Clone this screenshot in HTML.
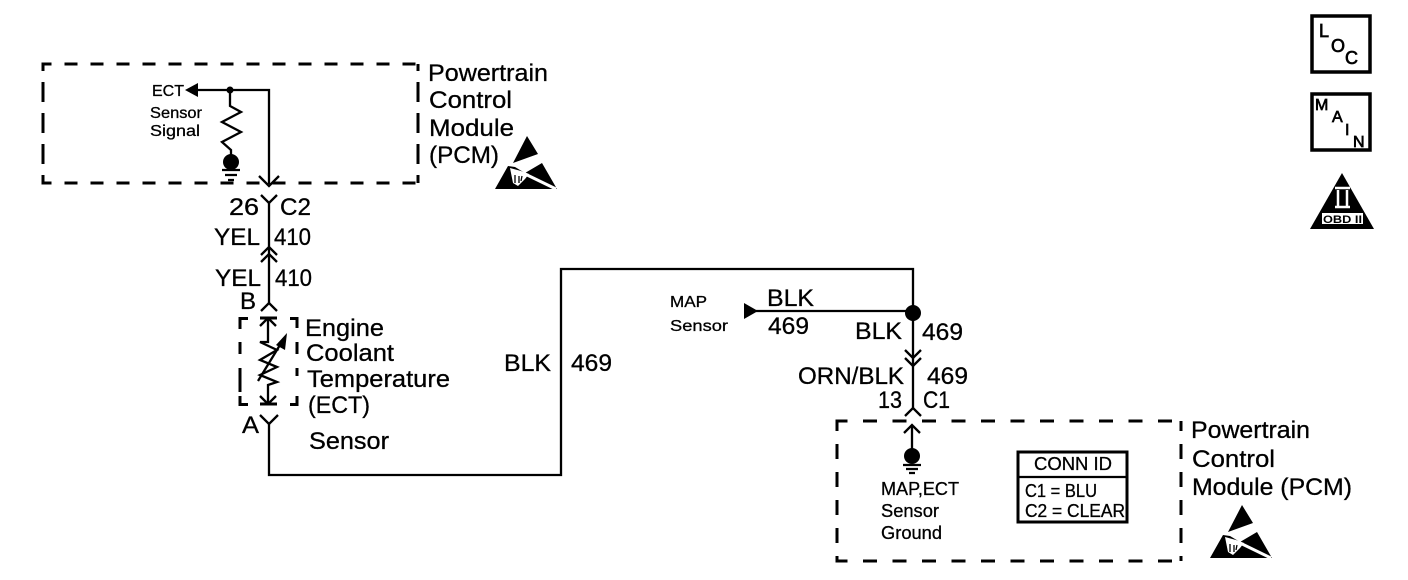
<!DOCTYPE html>
<html><head><meta charset="utf-8"><style>
html,body{margin:0;padding:0;background:#fff;width:1408px;height:580px;overflow:hidden}
svg{display:block}
text{font-family:"Liberation Sans",sans-serif;fill:#000;stroke:#000;stroke-width:.3}
.b{font-size:24px}
.s{font-size:16px}
.m{font-size:18px}
.k{font-size:18px;stroke-width:.7}
.l{fill:none;stroke:#000;stroke-width:2.3}
.d{fill:none;stroke:#000;stroke-width:3}
.f{fill:#000;stroke:none}
.h1{stroke-dasharray:13 13;stroke-dashoffset:3}
.v1{stroke-dasharray:20 11;stroke-dashoffset:13}
.h2{stroke-dasharray:14 15.5;stroke-dashoffset:2}
.v2{stroke-dasharray:15 13;stroke-dashoffset:5}
</style></head><body>
<svg width="1408" height="580" viewBox="0 0 1408 580" xmlns="http://www.w3.org/2000/svg">
<defs>
<g id="esd">
<path class="f" d="M42 5L53 23L28 32Z"/>
<path class="f" d="M23 35L10 58H72L57 32L40 42L30 36Z"/>
<path d="M25 37L28 52L33 55L40 48L44 43L36 40Z" fill="#fff"/>
<path d="M38 42L71 58" stroke="#fff" stroke-width="3"/>
<path d="M30 44V52M34 45V52M37 45L36 50" stroke="#000" stroke-width="1.3"/>
</g>
</defs>
<!-- PCM box 1 -->
<path class="d h1" d="M41.5 64H419"/>
<path class="d h1" d="M41.5 183H419"/>
<path class="d v1" d="M43 64V183"/>
<path class="d v1" d="M418 64V183"/>
<text class="b" x="428" y="81" textLength="120" lengthAdjust="spacingAndGlyphs">Powertrain</text>
<text class="b" x="429" y="108" textLength="83" lengthAdjust="spacingAndGlyphs">Control</text>
<text class="b" x="429" y="136" textLength="85" lengthAdjust="spacingAndGlyphs">Module</text>
<text class="b" x="429" y="163" textLength="70" lengthAdjust="spacingAndGlyphs">(PCM)</text>
<text class="s" x="152" y="96" textLength="32" lengthAdjust="spacingAndGlyphs">ECT</text>
<text class="s" x="150" y="118" textLength="52" lengthAdjust="spacingAndGlyphs">Sensor</text>
<text class="s" x="150" y="136" textLength="50" lengthAdjust="spacingAndGlyphs">Signal</text>
<path class="f" d="M185 90L198 83V97Z"/>
<path class="l" d="M196 90H269V184M259 176L269 186L279 176"/>
<circle class="f" cx="230" cy="90" r="3.5"/>
<path class="l" d="M230 90V106L241 112L222 122L241 132L222 142L231 150V158"/>
<circle class="f" cx="231" cy="162" r="8"/>
<path class="l" d="M222 170H240M225 175H237M228 180H234"/>
<!-- wire 410 -->
<path class="l" d="M269 203V303"/>
<path class="l" d="M261 195L269 203L277 195M261 255L269 247L277 255M261 262L269 254L277 262M261 311L269 303L277 311"/>
<text class="b" x="229" y="215" textLength="30" lengthAdjust="spacingAndGlyphs">26</text>
<text class="b" x="280" y="215" textLength="31" lengthAdjust="spacingAndGlyphs">C2</text>
<text class="b" x="214" y="245" textLength="46" lengthAdjust="spacingAndGlyphs">YEL</text>
<text class="b" x="274" y="245" textLength="37" lengthAdjust="spacingAndGlyphs">410</text>
<text class="b" x="215" y="286" textLength="46" lengthAdjust="spacingAndGlyphs">YEL</text>
<text class="b" x="275" y="286" textLength="37" lengthAdjust="spacingAndGlyphs">410</text>
<text class="b" x="240" y="309" textLength="16" lengthAdjust="spacingAndGlyphs">B</text>
<!-- ECT sensor -->
<path class="d" d="M248 318.5H240V329M240 342V354M240 368V392M240 396V404.5H248M290 318.5H297V328M297 342V354M297 368V376M297 396V404.5H290"/>
<path class="d" d="M260 318H277M260 404H277"/>
<path class="l" d="M268 319V342L260 342L277 350L260 360L277 367L260 375L277 382L268 385V404"/>
<path class="l" d="M260 326L268 318L276 326M260 396L268 404L276 396M258 381L283 340"/>
<path class="f" d="M287 333L285 350L276 345Z"/>
<path class="l" d="M260 415L269 424L278 415"/>
<text class="b" x="242" y="433" textLength="17" lengthAdjust="spacingAndGlyphs">A</text>
<text class="b" x="305" y="336" textLength="79" lengthAdjust="spacingAndGlyphs">Engine</text>
<text class="b" x="306" y="361" textLength="88" lengthAdjust="spacingAndGlyphs">Coolant</text>
<text class="b" x="307" y="387" textLength="143" lengthAdjust="spacingAndGlyphs">Temperature</text>
<text class="b" x="308" y="413" textLength="62" lengthAdjust="spacingAndGlyphs">(ECT)</text>
<text class="b" x="309" y="449" textLength="80" lengthAdjust="spacingAndGlyphs">Sensor</text>
<!-- long wire -->
<path class="l" d="M269 424V475H561V269H913V408"/>
<path class="l" d="M912 425V452"/>
<text class="b" x="504" y="371" textLength="47" lengthAdjust="spacingAndGlyphs">BLK</text>
<text class="b" x="571" y="371" textLength="41" lengthAdjust="spacingAndGlyphs">469</text>
<!-- MAP -->
<text class="s" x="670" y="307" textLength="37" lengthAdjust="spacingAndGlyphs">MAP</text>
<text class="s" x="670" y="331" textLength="58" lengthAdjust="spacingAndGlyphs">Sensor</text>
<path class="f" d="M744 303L758 311L744 319Z"/>
<path class="l" d="M756 311H913"/>
<circle class="f" cx="913" cy="313" r="8"/>
<text class="b" x="767" y="306" textLength="47" lengthAdjust="spacingAndGlyphs">BLK</text>
<text class="b" x="768" y="334" textLength="41" lengthAdjust="spacingAndGlyphs">469</text>
<text class="b" x="855" y="339" textLength="47" lengthAdjust="spacingAndGlyphs">BLK</text>
<text class="b" x="922" y="340" textLength="41" lengthAdjust="spacingAndGlyphs">469</text>
<path class="l" d="M905 350L913 358L921 350M905 358L913 366L921 358M905 416L913 408L921 416M904 433L912 425L920 433"/>
<text class="b" x="798" y="384" textLength="106" lengthAdjust="spacingAndGlyphs">ORN/BLK</text>
<text class="b" x="927" y="384" textLength="41" lengthAdjust="spacingAndGlyphs">469</text>
<text class="b" x="878" y="408" textLength="24" lengthAdjust="spacingAndGlyphs">13</text>
<text class="b" x="923" y="408" textLength="27" lengthAdjust="spacingAndGlyphs">C1</text>
<!-- PCM box 2 -->
<path class="d h2" d="M835.5 421H1183"/>
<path class="d h2" d="M835.5 561H1183"/>
<path class="d v2" d="M837 421V561"/>
<path class="d v2" d="M1181 421V561"/>
<circle class="f" cx="912" cy="456" r="8"/>
<path class="l" d="M903 465H921M906 469H918M909 473H915"/>
<text class="m" x="881" y="495" textLength="78" lengthAdjust="spacingAndGlyphs">MAP,ECT</text>
<text class="m" x="881" y="517" textLength="58" lengthAdjust="spacingAndGlyphs">Sensor</text>
<text class="m" x="881" y="539" textLength="61" lengthAdjust="spacingAndGlyphs">Ground</text>
<rect x="1018" y="452" width="109" height="70" fill="#fff" stroke="#000" stroke-width="3"/>
<path class="l" d="M1018 477H1127"/>
<text class="m" x="1034" y="470" textLength="78" lengthAdjust="spacingAndGlyphs">CONN ID</text>
<text class="m" x="1025" y="497" textLength="72" lengthAdjust="spacingAndGlyphs">C1 = BLU</text>
<text class="m" x="1025" y="517" textLength="100" lengthAdjust="spacingAndGlyphs">C2 = CLEAR</text>
<text class="b" x="1191" y="438" textLength="119" lengthAdjust="spacingAndGlyphs">Powertrain</text>
<text class="b" x="1192" y="467" textLength="83" lengthAdjust="spacingAndGlyphs">Control</text>
<text class="b" x="1192" y="495" textLength="160" lengthAdjust="spacingAndGlyphs">Module (PCM)</text>
<!-- ESD icons -->
<use href="#esd" transform="translate(485,131)"/>
<use href="#esd" transform="translate(1200,500)"/>
<!-- Side icons -->
<rect x="1312" y="16" width="58" height="56" fill="#fff" stroke="#000" stroke-width="3.5"/>
<text class="k" x="1319" y="37" font-size="19">L</text>
<text class="k" x="1331" y="52">O</text>
<text class="k" x="1345" y="64">C</text>
<rect x="1312" y="94" width="58" height="56" fill="#fff" stroke="#000" stroke-width="3.5"/>
<text class="k" x="1315" y="110" style="font-size:16px">M</text>
<text class="k" x="1332" y="122" style="font-size:16px">A</text>
<text class="k" x="1345" y="135" style="font-size:16px">I</text>
<text class="k" x="1353" y="147" style="font-size:16px">N</text>
<path class="f" d="M1342 173L1374 229H1310Z"/>
<rect x="1322" y="213" width="41" height="11" fill="#fff"/>
<text x="1323" y="223" style="font-size:11px;font-weight:bold;stroke-width:0" textLength="39" lengthAdjust="spacingAndGlyphs">OBD II</text>
<path d="M1335 188H1350M1335 207H1350M1338 190V206M1347 190V206" stroke="#fff" stroke-width="2.5" fill="none"/>
</svg>
</body></html>
